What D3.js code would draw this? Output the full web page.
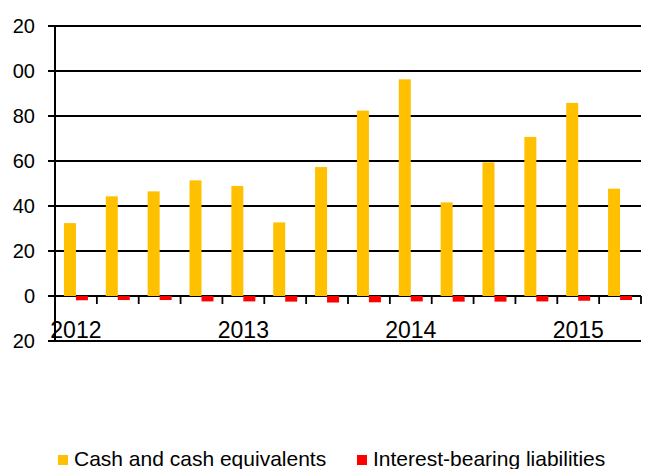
<!DOCTYPE html>
<html>
<head>
<meta charset="utf-8">
<script src="https://cdn.jsdelivr.net/npm/d3@7"></script>
<style>
  body { margin: 0; background: #fff; }
  text { font-family: "Liberation Sans", Arial, sans-serif; }
</style>
</head>
<body>
<svg id="chart"></svg>
<script>
// quarterly data, only the first quarter of each year gets a label
var quarters = ["2012", "", "", "", "2013", "", "", "", "2014", "", "", "", "2015", ""];
var cash = [32.4, 44.3, 46.5, 51.4, 48.9, 32.7, 57.3, 82.4, 96.3, 41.6, 59.4, 70.7, 85.8, 47.7];
var liabilities = [-1.9, -1.8, -1.8, -2.4, -2.4, -2.5, -2.9, -2.8, -2.4, -2.5, -2.5, -2.4, -2.1, -1.8];
var yTicks = [-20, 0, 20, 40, 60, 80, 100, 120];
var seriesNames = ["Cash and cash equivalents", "Interest-bearing liabilities"];
var seriesColors = ["#FFC000", "#FF0000"];

var svgWidth = 647, svgHeight = 469;
var svg = d3.select('#chart')
            .attr("width", svgWidth)
            .attr("height", svgHeight);

var x = d3.scaleBand()
          .domain(d3.range(quarters.length))
          .range([55, 641]);

var barWidth = 12;
var xInner = d3.scaleBand()
               .domain([0, 1])
               .range([(x.bandwidth() - 2 * barWidth) / 2, (x.bandwidth() + 2 * barWidth) / 2]);

var y = d3.scaleLinear()
          .domain([-20, 120])
          .range([341, 26]);

// grid lines (with a short tick to the left of the axis)
svg.append('g').selectAll('line')
   .data(yTicks)
   .enter()
   .append('line')
   .attr("x1", 48)
   .attr("x2", x.range()[1])
   .attr("y1", function(d){ return y(d); })
   .attr("y2", function(d){ return y(d); })
   .attr("stroke", "#000")
   .attr("stroke-width", 1.8);

// y labels, clipped on the left like in the original picture
svg.append('clipPath').attr('id', 'yclip')
   .append('rect').attr('x', 12).attr('y', 0).attr('width', 40).attr('height', svgHeight);

var yAxis = svg.append('g')
   .attr('clip-path', 'url(#yclip)')
   .append('g')
   .attr('transform', 'translate(35,0)')
   .call(d3.axisLeft(y).tickValues(yTicks).tickSize(0).tickPadding(0));
yAxis.select('.domain').remove();
yAxis.selectAll('text')
     .attr('font-size', 20)
     .attr('font-family', '"Liberation Sans", Arial, sans-serif')
     .attr('fill', '#000');

// bars
var groups = svg.append('g').selectAll('g')
   .data(quarters.map(function(q, i){ return [cash[i], liabilities[i]]; }))
   .enter()
   .append('g')
   .attr("transform", function(d, i){ return "translate(" + x(i) + ",0)"; });

groups.selectAll('rect')
   .data(function(d){ return d; })
   .enter()
   .append('rect')
   .attr("x", function(d, j){ return xInner(j); })
   .attr("width", barWidth)
   .attr("y", function(d){ return y(Math.max(0, d)); })
   .attr("height", function(d){ return Math.abs(y(d) - y(0)); })
   .attr("fill", function(d, j){ return seriesColors[j]; });

// x ticks on the zero line
svg.append('g').selectAll('line')
   .data(d3.range(1, quarters.length + 1))
   .enter()
   .append('line')
   .attr("x1", function(i){ return x.range()[0] + i * x.step(); })
   .attr("x2", function(i){ return x.range()[0] + i * x.step(); })
   .attr("y1", y(0))
   .attr("y2", y(0) + 8)
   .attr("stroke", "#000")
   .attr("stroke-width", 1.8);

// y axis line
svg.append('line')
   .attr("x1", x.range()[0]).attr("x2", x.range()[0])
   .attr("y1", y(120)).attr("y2", y(-20))
   .attr("stroke", "#000")
   .attr("stroke-width", 2);

// year labels
svg.append('g').selectAll('text')
   .data(quarters)
   .enter()
   .append('text')
   .attr("x", function(d, i){ return x(i) + x.bandwidth() / 2; })
   .attr("y", 338)
   .attr("text-anchor", "middle")
   .attr("font-size", 23)
   .attr("fill", "#000")
   .text(function(d){ return d; });

// legend
var legendX = [58, 357];
var legend = svg.append('g').selectAll('g')
   .data(seriesNames)
   .enter()
   .append('g')
   .attr("transform", function(d, i){ return "translate(" + legendX[i] + ",455)"; });

legend.append('rect')
   .attr("width", 10)
   .attr("height", 10)
   .attr("fill", function(d, i){ return seriesColors[i]; });

legend.append('text')
   .attr("x", 16)
   .attr("y", 11)
   .attr("font-size", 21)
   .attr("fill", "#000")
   .text(function(d){ return d; });
</script>
</body>
</html>
